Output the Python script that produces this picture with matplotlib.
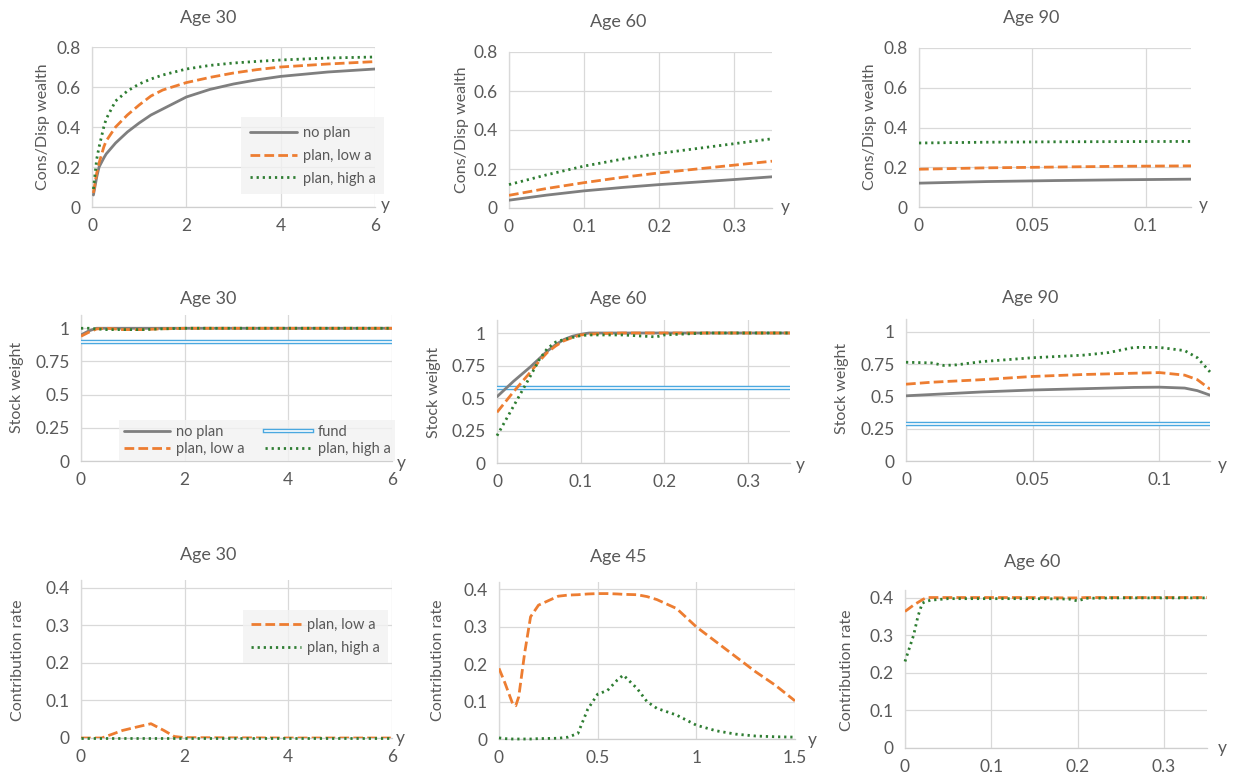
import numpy as np
import matplotlib
matplotlib.use("Agg")
import matplotlib.pyplot as plt

plt.rcParams['font.family'] = ['Lato', 'DejaVu Sans']

# ---- data ----
# row 1: consumption / disposable wealth
c30_x = [0.03, 0.1, 0.15, 0.25, 0.3, 0.5, 0.75, 1, 1.25, 1.5, 2, 2.5, 3, 3.5, 4, 5, 6]
c30_noplan = [0.06, 0.15, 0.2, 0.245, 0.265, 0.32, 0.375, 0.42, 0.46, 0.49, 0.55, 0.588, 0.615, 0.636,
              0.653, 0.675, 0.69]
c30_low = [0.07, 0.17, 0.22, 0.3, 0.33, 0.4, 0.46, 0.51, 0.555, 0.585, 0.622, 0.648, 0.67, 0.687,
           0.70, 0.715, 0.727]
c30_high = [0.09, 0.24, 0.3, 0.4, 0.44, 0.53, 0.58, 0.615, 0.64, 0.66, 0.69, 0.708, 0.72, 0.728,
            0.735, 0.745, 0.75]

c60_x = [0, 0.05, 0.1, 0.15, 0.2, 0.25, 0.3, 0.35]
c60_noplan = [0.04, 0.066, 0.088, 0.105, 0.12, 0.133, 0.146, 0.16]
c60_low = [0.065, 0.1, 0.13, 0.157, 0.18, 0.2, 0.22, 0.24]
c60_high = [0.12, 0.17, 0.215, 0.25, 0.28, 0.305, 0.33, 0.355]

c90_x = [0, 0.03, 0.06, 0.09, 0.12]
c90_noplan = [0.12, 0.128, 0.133, 0.137, 0.14]
c90_low = [0.19, 0.197, 0.201, 0.205, 0.207]
c90_high = [0.322, 0.326, 0.328, 0.329, 0.33]

# row 2: stock weight
s30_x = [0, 0.15, 0.3, 0.5, 0.8, 1.2, 1.5, 2, 4, 6]
s30_noplan = [0.95, 0.98, 1.0, 1.0, 1.0, 1.0, 1.0, 1.0, 1.0, 1.0]
s30_low = [0.94, 0.97, 0.995, 1.0, 0.99, 0.99, 0.995, 1.0, 1.0, 1.0]
s30_high = [1.0, 1.0, 0.995, 0.99, 0.99, 0.99, 0.995, 1.0, 1.0, 1.0]
s30_fund = 0.9

s60_x = [0, 0.02, 0.04, 0.05, 0.06, 0.07, 0.08, 0.09, 0.1, 0.11, 0.12, 0.15, 0.19, 0.2, 0.25, 0.3, 0.35]
s60_noplan = [0.51, 0.63, 0.74, 0.8, 0.86, 0.91, 0.95, 0.975, 0.99, 1.0, 1.0, 1.0, 1.0, 1.0, 1.0, 1.0, 1.0]
s60_low = [0.39, 0.55, 0.70, 0.78, 0.85, 0.9, 0.94, 0.965, 0.985, 0.99, 0.995, 1.0, 1.0, 1.0, 1.0, 1.0, 1.0]
s60_high = [0.21, 0.44, 0.67, 0.79, 0.88, 0.93, 0.95, 0.965, 0.98, 0.985, 0.985, 0.985, 0.97, 0.985, 1.0, 1.0, 1.0]
s60_fund = 0.58

s90_x = [0, 0.01, 0.015, 0.02, 0.03, 0.05, 0.07, 0.08, 0.09, 0.1, 0.11, 0.115, 0.12]
s90_noplan = [0.505, 0.515, 0.52, 0.525, 0.535, 0.55, 0.56, 0.565, 0.57, 0.572, 0.565, 0.545, 0.51]
s90_low = [0.595, 0.61, 0.615, 0.62, 0.63, 0.655, 0.67, 0.675, 0.68, 0.685, 0.665, 0.63, 0.557]
s90_high = [0.765, 0.76, 0.74, 0.745, 0.77, 0.8, 0.82, 0.84, 0.88, 0.88, 0.855, 0.8, 0.69]
s90_fund = 0.29

# row 3: contribution rate
k30_x = [0, 0.4, 0.8, 1.1, 1.35, 1.6, 1.8, 2, 4, 6]
k30_low = [0.0, 0.0, 0.02, 0.03, 0.038, 0.02, 0.004, 0.001, 0.0, 0.0]
k30_high = [0.0, 0.0, 0.0, 0.0, 0.0, 0.0, 0.0, 0.0, 0.0, 0.0]

k45_x = [0, 0.03, 0.07, 0.085, 0.1, 0.13, 0.16, 0.2, 0.3, 0.35, 0.4, 0.45, 0.5, 0.55, 0.6, 0.63,
         0.7, 0.75, 0.8, 0.9, 1.0, 1.1, 1.2, 1.3, 1.4, 1.5]
k45_low = [0.189, 0.15, 0.093, 0.089, 0.113, 0.23, 0.327, 0.358, 0.382, 0.385, 0.386, 0.388, 0.389, 0.389,
           0.388, 0.387, 0.386, 0.381, 0.373, 0.349, 0.300, 0.26, 0.22, 0.18, 0.144, 0.102]
k45_high = [0.003, 0.001, 0.0, 0.0, 0.0, 0.0, 0.0, 0.001, 0.002, 0.005, 0.015, 0.08, 0.12, 0.13, 0.158, 0.171,
            0.135, 0.1, 0.082, 0.064, 0.037, 0.022, 0.013, 0.008, 0.006, 0.005]

k60_x = [0, 0.01, 0.015, 0.02, 0.025, 0.03, 0.04, 0.05, 0.1, 0.15, 0.19, 0.2, 0.21, 0.25, 0.3, 0.35]
k60_low = [0.363, 0.38, 0.387, 0.394, 0.4, 0.4, 0.4, 0.4, 0.4, 0.4, 0.399, 0.399, 0.4, 0.4, 0.4, 0.4]
k60_high = [0.23, 0.3, 0.35, 0.385, 0.39, 0.393, 0.395, 0.397, 0.397, 0.397, 0.396, 0.391, 0.398, 0.399, 0.399, 0.399]

# ---- styles ----
GRAY = '#7f7f7f'
ORANGE = '#ed7d31'
GREEN = '#2e7d32'
BLUE = '#4aa8e0'
TXT = '#595959'
GRID = '#d9d9d9'

W, H = 1233, 778
fig = plt.figure(figsize=(W / 100, H / 100), dpi=100)


def make_ax(l, t, r, b, xlim, ylim, xticks, yticks, xtl, ytl):
    ax = fig.add_axes([l / W, 1 - b / H, (r - l) / W, (b - t) / H])
    ax.set_xlim(*xlim)
    ax.set_ylim(*ylim)
    ax.set_xticks(xticks)
    ax.set_yticks(yticks)
    ax.set_xticklabels(xtl)
    ax.set_yticklabels(ytl)
    ax.grid(True, color=GRID, lw=0.9)
    ax.set_axisbelow(True)
    for s in ['top', 'right']:
        ax.spines[s].set_visible(False)
    for s in ['left', 'bottom']:
        ax.spines[s].set_color('#cfcfcf')
        ax.spines[s].set_linewidth(0.9)
        ax.spines[s].set_zorder(0.5)
    ax.tick_params(length=0, labelsize=12.5, colors=TXT, pad=8)
    return ax


def put(x, y, s, size=10, rot=0, ha='center'):
    fig.text(x / W, 1 - y / H, s, fontsize=size, color=TXT, rotation=rot, ha=ha, va='center')


def fund_line(ax, val):
    a = ax.axhline(val, color=BLUE, lw=3.2)
    b = ax.axhline(val, color='white', lw=1.2)
    return (a, b)


def draw(ax, x, noplan=None, low=None, high=None):
    hs = {}
    if noplan is not None:
        hs['no plan'], = ax.plot(x, noplan, color=GRAY, lw=2.0, solid_capstyle='round', zorder=3)
    if low is not None:
        hs['plan, low a'], = ax.plot(x, low, color=ORANGE, lw=2.0, ls=(0, (3.5, 1.5)), zorder=3)
    if high is not None:
        hs['plan, high a'], = ax.plot(x, high, color=GREEN, lw=2.0, ls=(0, (0.8, 1.4)), zorder=3,
                                      clip_on=False)
    return hs


def style_legend(leg):
    leg.get_frame().set_facecolor('#f2f2f2')
    leg.get_frame().set_edgecolor('none')
    leg.get_frame().set_boxstyle('square', pad=0)
    for t in leg.get_texts():
        t.set_color(TXT)


t8 = [0, 0.2, 0.4, 0.6, 0.8]
t8l = ['0', '0.2', '0.4', '0.6', '0.8']
t1 = [0, 0.25, 0.5, 0.75, 1]
t1l = ['0', '0.25', '0.5', '0.75', '1']
t4 = [0, 0.1, 0.2, 0.3, 0.4]
t4l = ['0', '0.1', '0.2', '0.3', '0.4']
x6 = [0, 2, 4, 6]
x6l = ['0', '2', '4', '6']
x35 = [0, 0.1, 0.2, 0.3]
x35l = ['0', '0.1', '0.2', '0.3']
x12 = [0, 0.05, 0.1]
x12l = ['0', '0.05', '0.1']

# row 1
ax = make_ax(92, 47, 375, 207, (0, 6), (0, 0.8), x6, t8, x6l, t8l)
hs = draw(ax, c30_x, c30_noplan, c30_low, c30_high)
leg = ax.legend(list(hs.values()), list(hs.keys()), loc='upper left',
                bbox_to_anchor=((234 - 92) / 283, 1 - (110 - 47) / 160), frameon=True,
                fontsize=10.5, handlelength=3.2, labelspacing=0.6, borderpad=0.6, handletextpad=0.4)
style_legend(leg)

ax = make_ax(509, 52, 772, 208, (0, 0.35), (0, 0.8), x35, t8, x35l, t8l)
draw(ax, c60_x, c60_noplan, c60_low, c60_high)

ax = make_ax(919, 48, 1191, 207, (0, 0.12), (0, 0.8), x12, t8, x12l, t8l)
draw(ax, c90_x, c90_noplan, c90_low, c90_high)

# row 2
ax = make_ax(81, 315, 392, 461, (0, 6), (0, 1.1), x6, t1, x6l, t1l)
fh = fund_line(ax, s30_fund)
hs = draw(ax, s30_x, s30_noplan, s30_low, s30_high)
handles = [hs['no plan'], hs['plan, low a'], fh, hs['plan, high a']]
labels = ['no plan', 'plan, low a', 'fund', 'plan, high a']
leg = ax.legend(handles, labels, loc='upper left', ncol=2,
                bbox_to_anchor=((112 - 81) / 311, 1 - (413 - 315) / 146), frameon=True,
                fontsize=10.5, handlelength=3.2, labelspacing=0.25, borderpad=0.3, handletextpad=0.4,
                columnspacing=1.4)
style_legend(leg)

ax = make_ax(497, 320, 790, 463, (0, 0.35), (0, 1.1), x35, t1, x35l, t1l)
fund_line(ax, s60_fund)
draw(ax, s60_x, s60_noplan, s60_low, s60_high)

ax = make_ax(906, 319, 1210, 461, (0, 0.12), (0, 1.1), x12, t1, x12l, t1l)
fund_line(ax, s90_fund)
draw(ax, s90_x, s90_noplan, s90_low, s90_high)

# row 3
ax = make_ax(81, 580, 392, 738, (0, 6), (0, 0.42), x6, t4, x6l, t4l)
hs = draw(ax, k30_x, None, k30_low, k30_high)
leg = ax.legend(list(hs.values()), list(hs.keys()), loc='upper left',
                bbox_to_anchor=((236 - 81) / 311, 1 - (603 - 580) / 158), frameon=True,
                fontsize=10.5, handlelength=3.4, labelspacing=0.6, borderpad=0.55, handletextpad=0.4)
style_legend(leg)

ax = make_ax(499, 582, 795, 739, (0, 1.5), (0, 0.42), [0, 0.5, 1, 1.5], t4, ['0', '0.5', '1', '1.5'], t4l)
draw(ax, k45_x, None, k45_low, k45_high)

ax = make_ax(905, 590, 1207, 748, (0, 0.35), (0, 0.42), x35, t4, x35l, t4l)
draw(ax, k60_x, None, k60_low, k60_high)

# titles
for x, y, s in [(208, 18, 'Age 30'), (618, 22, 'Age 60'), (1031, 18, 'Age 90'),
                (208, 299, 'Age 30'), (618, 299, 'Age 60'), (1030, 298, 'Age 90'),
                (208, 555, 'Age 30'), (618, 557, 'Age 45'), (1032, 562, 'Age 60')]:
    put(x, y, s, size=13)

# y axis labels
for x, y, s in [(43, 127, 'Cons/Disp wealth'), (462, 130, 'Cons/Disp wealth'), (870, 127, 'Cons/Disp wealth'),
                (17, 387, 'Stock weight'), (434, 392, 'Stock weight'), (842, 388, 'Stock weight'),
                (18, 660, 'Contribution rate'), (438, 660, 'Contribution rate'), (847, 670, 'Contribution rate')]:
    put(x, y, s, size=11.5, rot=90)

# "y" at the end of each x axis
for x, y in [(385, 205), (785, 207), (1203, 205), (401, 463), (800, 465), (1222, 465),
             (400, 738), (812, 740), (1222, 748)]:
    put(x, y, 'y', size=12.5)

fig.savefig('out.png', dpi=100, facecolor='white')
